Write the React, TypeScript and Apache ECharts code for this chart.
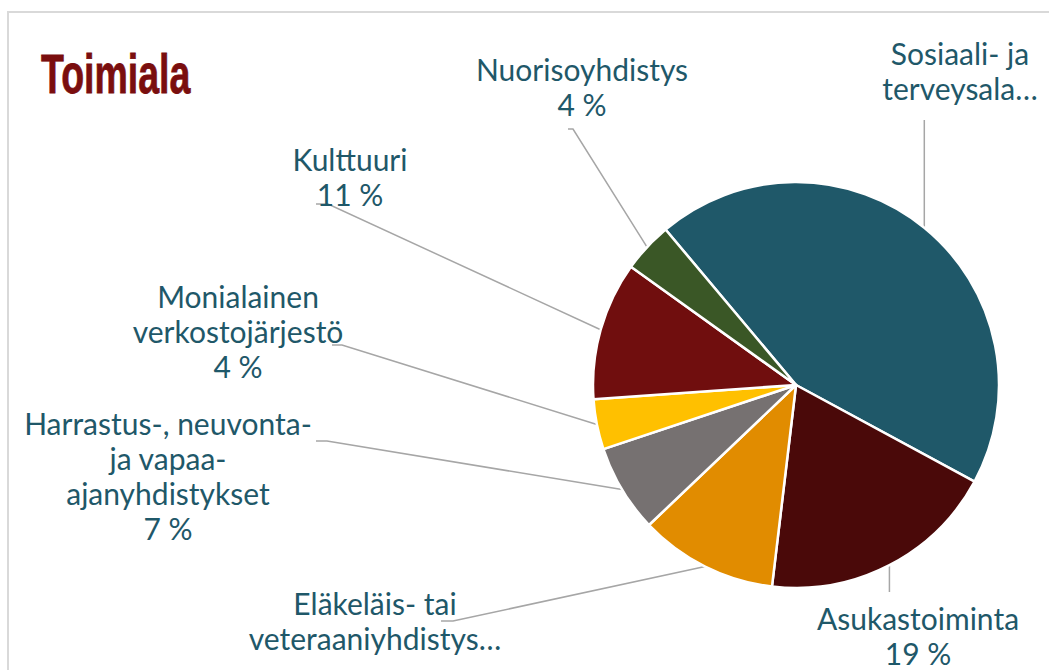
import React, { useEffect, useRef } from "react";
import * as echarts from "echarts";

const categories = [
  "Sosiaali- ja terveysala",
  "Asukastoiminta",
  "Eläkeläis- tai veteraaniyhdistys",
  "Harrastus-, neuvonta- ja vapaa-ajanyhdistykset",
  "Monialainen verkostojärjestö",
  "Kulttuuri",
  "Nuorisoyhdistys",
];
const values = [44, 19, 11, 7, 4, 11, 4];
const labelTexts = [
  ["Sosiaali- ja", "terveysala…"],
  ["Asukastoiminta"],
  ["Eläkeläis- tai", "veteraaniyhdistys…"],
  ["Harrastus-, neuvonta-", "ja vapaa-", "ajanyhdistykset"],
  ["Monialainen", "verkostojärjestö"],
  ["Kulttuuri"],
  ["Nuorisoyhdistys"],
];
const showPercent = [false, true, false, true, true, true, true];
const colors = ["#1F5869", "#4A0909", "#E18C00", "#767171", "#FFC000", "#700E0E", "#3A5726"];

// label placement (center of text block) and label-line bends
const labelPos = [
  [960, 70],
  [918, 635],
  [375, 620],
  [168, 475],
  [238, 331],
  [350, 176],
  [582, 86],
];
const lineBends: (number[] | null)[][] = [
  [null, [0, 120]],
  [null, [0, 592]],
  [[453, 621], [441, 621]],
  [[327, 441], [316, 441]],
  [[342, 345], [332, 345]],
  [[328, 204], [316, 204]],
  [[573, 129], [568, 129]],
];

export default function App() {
  const ref = useRef<HTMLDivElement>(null);
  useEffect(() => {
    if (!ref.current) return;
    const chart = echarts.init(ref.current, undefined, { renderer: "svg" });
    chart.setOption({
      animation: false,
      backgroundColor: "#ffffff",
      graphic: [
        {
          type: "rect",
          shape: { x: 8, y: 12, width: 1100, height: 700 },
          style: { fill: "none", stroke: "#D9D9D9", lineWidth: 2 },
          silent: true,
          z: -1,
        },
        {
          type: "text",
          x: 41,
          y: 73.5,
          scaleX: 0.67,
          style: {
            text: "Toimiala",
            fontFamily: "Liberation Sans",
            fontWeight: "bold",
            fontSize: 56,
            fill: "#7A0E0E",
            stroke: "#7A0E0E",
            lineWidth: 0.8,
            align: "left",
            verticalAlign: "middle",
          },
        },
      ],
      series: [
        {
          type: "pie",
          center: [796, 385],
          radius: 203,
          startAngle: 130,
          clockwise: true,
          avoidLabelOverlap: false,
          itemStyle: { borderColor: "#ffffff", borderWidth: 2.5 },
          label: {
            show: true,
            position: "outside",
            fontFamily: "Lato",
            fontSize: 30,
            lineHeight: 35,
            color: "#1F5869",
            formatter: (p: any) => {
              const lines = labelTexts[p.dataIndex].slice();
              if (showPercent[p.dataIndex]) lines.push(Math.round(p.percent) + " %");
              return lines.join("\n");
            },
          },
          labelLine: {
            show: true,
            lineStyle: { color: "#A6A6A6", width: 1.5 },
          },
          labelLayout: (params: any) => {
            const i = params.dataIndex;
            const start = params.labelLinePoints ? params.labelLinePoints[0] : [0, 0];
            const b = lineBends[i];
            let pts: number[][];
            if (b[0] === null) {
              const e = [start[0], (b[1] as number[])[1]];
              pts = [start, e, e];
            } else {
              pts = [start, b[0] as number[], b[1] as number[]];
            }
            return {
              x: labelPos[i][0],
              y: labelPos[i][1],
              align: "center",
              verticalAlign: "middle",
              labelLinePoints: pts,
            };
          },
          data: categories.map((c, i) => ({
            name: c,
            value: values[i],
            itemStyle: { color: colors[i] },
          })),
        },
      ],
    });
    return () => chart.dispose();
  }, []);
  return (
    <div
      ref={ref}
      style={{ position: "fixed", left: 0, top: 0, width: 1049, height: 670 }}
    />
  );
}
